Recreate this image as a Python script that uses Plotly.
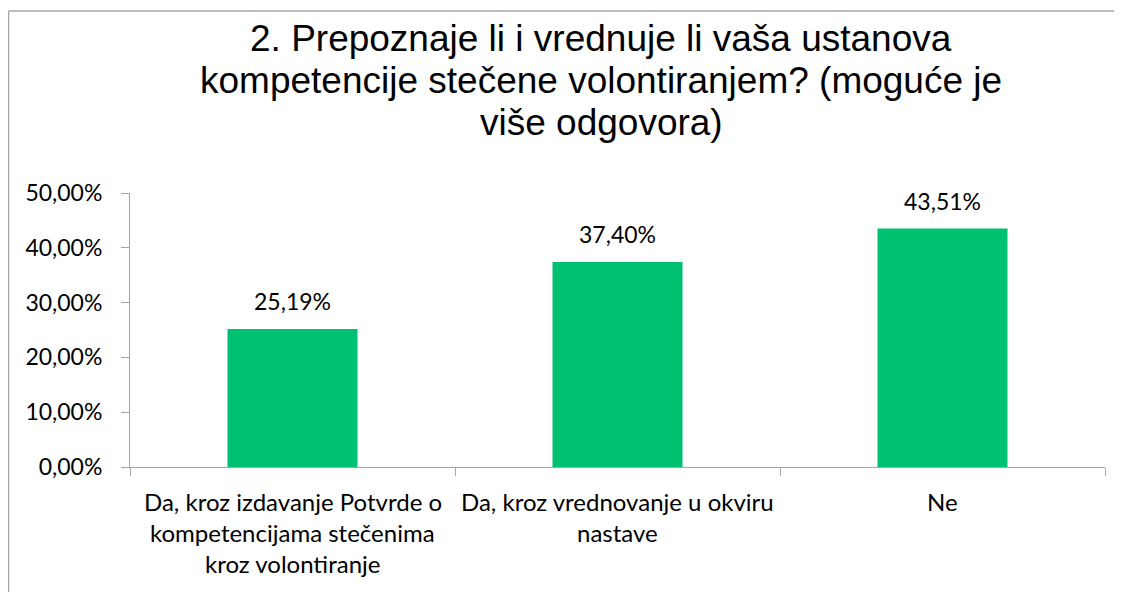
import plotly.graph_objects as go

categories = ["Da, kroz izdavanje Potvrde o", "Da, kroz vrednovanje u okviru", "Ne"]
category_lines = [
    ["Da, kroz izdavanje Potvrde o", "kompetencijama stečenima", "kroz volontiranje"],
    ["Da, kroz vrednovanje u okviru", "nastave"],
    ["Ne"],
]
values = [0.2519, 0.3740, 0.4351]
y_ticks = [0, 0.1, 0.2, 0.3, 0.4, 0.5]

title_lines = [
    "2. Prepoznaje li i vrednuje li vaša ustanova",
    "kompetencije stečene volontiranjem? (moguće je",
    "više odgovora)",
]

# the page adds an 8px body margin, so the figure is 8px smaller
W, H = 1114, 584
L, R, T, B = 122, 17, 185, 125
GREEN = "#00c071"
AXIS = "#a6a6a6"
SANS = "Lato, Carlito, Calibri, sans-serif"
TICK_FONT = dict(family=SANS, size=23, color="#000000")
CAT_FONT = dict(family=SANS, size=24, color="#000000")
TITLE_FONT = dict(family="Liberation Sans, Arial, sans-serif", size=37, color="#000000")

pw = W - L - R
ph = H - T - B


def px_x(x):
    return (x - L) / pw


def px_y(y):
    return (H - B - y) / ph


fig = go.Figure()
fig.add_trace(go.Bar(x=categories, y=values, marker_color=GREEN,
                     marker_line_width=0, hoverinfo="skip"))

# data labels above the bars
for c, v in zip(categories, values):
    fig.add_annotation(x=c, y=v, text=f"{v*100:.2f}%".replace(".", ","),
                       showarrow=False, yshift=28, yanchor="middle", font=TICK_FONT)

# wrapped category labels, one annotation per line (Excel line spacing)
for c, lines in zip(categories, category_lines):
    for i, line in enumerate(lines):
        fig.add_annotation(x=c, y=0, yref="y", text=line, showarrow=False,
                           yanchor="middle", yshift=-34 - 31 * i, font=CAT_FONT)

# title, one line per annotation
for i, line in enumerate(title_lines):
    fig.add_annotation(x=px_x(593), y=px_y(31 + 41.5 * i), xref="paper", yref="paper",
                       text=line, showarrow=False, xanchor="center", yanchor="middle",
                       font=TITLE_FONT)

# chart-area border (only top and left edges are visible in the crop)
bx = px_x(0.5)
by = px_y(3)
fig.add_shape(type="line", xref="paper", yref="paper", x0=bx, x1=bx, y0=-1, y1=by,
              line=dict(color=AXIS, width=1.5))
fig.add_shape(type="line", xref="paper", yref="paper", x0=bx, x1=2, y0=by, y1=by,
              line=dict(color=AXIS, width=1.5))

fig.update_layout(
    width=W, height=H,
    margin=dict(l=L, r=R, t=T, b=B),
    paper_bgcolor="white", plot_bgcolor="white",
    separators=",.",
    bargap=0.6,
    showlegend=False,
    font=TICK_FONT,
)
fig.update_yaxes(range=[0, 0.5], tickvals=y_ticks, tickformat=".2%",
                 showgrid=False, zeroline=False, automargin=False,
                 showline=True, linecolor=AXIS, linewidth=1,
                 ticks="outside", ticklen=8, tickcolor=AXIS, tickfont=TICK_FONT,
                 ticklabelstandoff=14)
fig.update_xaxes(showticklabels=False, showgrid=False, automargin=False,
                 showline=True, linecolor=AXIS, linewidth=1,
                 ticks="outside", tickson="boundaries", ticklen=8, tickcolor=AXIS)

fig.write_html("out.html")
